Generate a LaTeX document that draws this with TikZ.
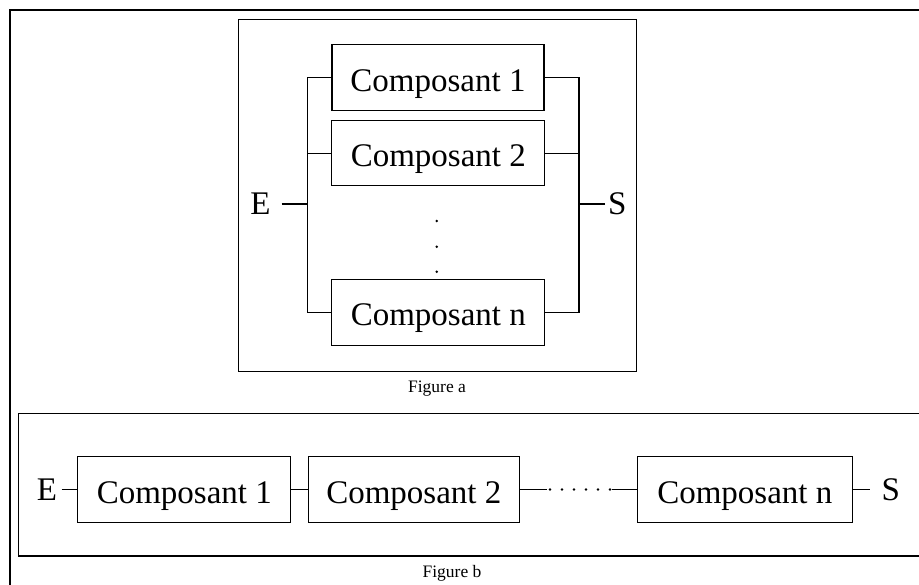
\documentclass[tikz,border=0pt]{standalone}
\usepackage{fontspec}
\setmainfont{Liberation Serif}
\tikzset{
  comp/.style={draw, line width=1.3pt, inner sep=0pt, minimum height=66pt, text height=27pt, text depth=0pt, font=\fontsize{33}{36}\selectfont},
  wire/.style={line width=1.4pt},
  lbl/.style={inner sep=0pt, font=\fontsize{33}{36}\selectfont},
  figcap/.style={inner sep=0pt, font=\fontsize{17.5}{20}\selectfont},
  framebox/.style={line width=1.4pt},
  dotmark/.style={circle, fill, inner sep=0pt, minimum size=2.8pt}
}
\begin{document}
\begin{tikzpicture}[x=1pt,y=-1pt]
\useasboundingbox (0,0) rectangle (919,585);
\clip (0,0) rectangle (919,585);
\fill[white] (0,0) rectangle (919,585);
% outer frame (extends past the page)
\draw[framebox, line width=1.6pt] (10,10) rectangle (940,620);
% ---------------- Figure a ----------------
\draw[framebox] (238.3,19.3) rectangle (636.7,371.7);
\node[comp, minimum width=212pt] (a1) at (438,77.7) {Composant 1};
\node[comp, minimum width=213pt, minimum height=65pt] (a2) at (438.3,153.3) {Composant 2};
\node[comp, minimum width=213pt] (an) at (438.3,312.5) {Composant n};
\coordinate (lt) at (307.7,77.7);
\coordinate (lb) at (307.7,312.5);
\coordinate (rt) at (579,77.7);
\coordinate (rb) at (579,312.5);
\draw[wire] (a1.west) -- (lt) -- (lb) -- (an.west);
\draw[wire] (a2.west) -- (a2.west -| lt);
\draw[wire] (a1.east) -- (rt) -- (rb) -- (an.east);
\draw[wire] (a2.east) -- (a2.east -| rt);
\node[lbl, anchor=east, inner xsep=11pt] (Ea) at (281.7,204) {E};
\node[lbl, anchor=west, inner xsep=3pt] (Sa) at (605,204) {S};
\draw[wire] (Ea.east) -- (Ea.east -| lt);
\draw[wire] (Sa.west) -- (Sa.west -| rt);
\node[dotmark] (ad1) at (436.7,221) {};
\node[dotmark] (ad2) at (436.7,246.7) {};
\node[dotmark] (ad3) at (436.7,271.7) {};
\node[figcap] (capa) at (437,389) {Figure a};
% ---------------- Figure b ----------------
\draw[framebox] (18.3,413.5) rectangle (940,556);
\node[comp, minimum width=213pt] (b1) at (184.3,489.5) {Composant 1};
\node[comp, minimum width=211pt] (b2) at (413.8,489.5) {Composant 2};
\node[comp, minimum width=215pt] (bn) at (744.8,489.5) {Composant n};
\node[lbl, anchor=east, inner xsep=4.5pt] (Eb) at (61.7,489.5) {E};
\node[lbl, anchor=west, inner xsep=11.5pt] (Sb) at (870,489.5) {S};
\draw[wire] (Eb.east) -- (b1.west);
\draw[wire] (b1.east) -- (b2.west);
\coordinate (dl) at (546.7,489.5);
\coordinate (dr) at (611.7,489.5);
\draw[wire] (b2.east) -- (dl);
\foreach \i/\x in {1/550,2/562,3/574,4/586,5/598,6/610} {
  \node[dotmark] (bd\i) at (\x,489.5) {};
}
\draw[wire] (dr) -- (bn.west);
\draw[wire] (bn.east) -- (Sb.west);
\node[figcap] (capb) at (452,573) {Figure b};
\end{tikzpicture}
\end{document}
